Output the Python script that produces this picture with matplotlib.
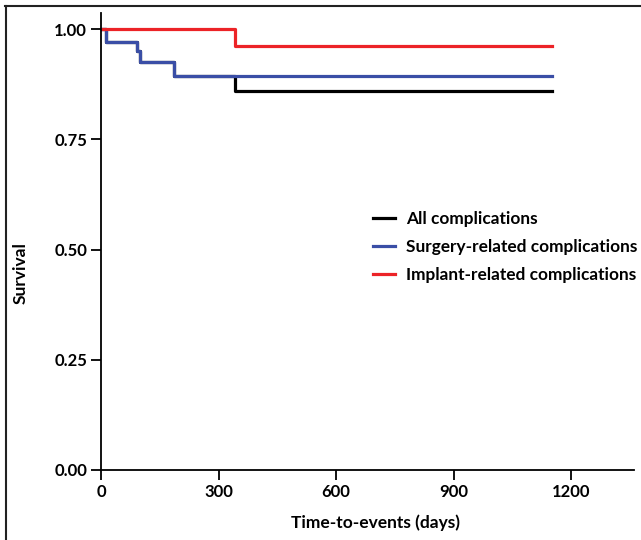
import matplotlib.pyplot as plt
from matplotlib.lines import Line2D

### DATA
# step curves: times where survival changes, and survival after each step
all_t = [0, 12, 93, 99, 187, 342, 1150]
all_s = [1.0, 0.971, 0.950, 0.926, 0.893, 0.860, 0.860]

surg_t = [0, 12, 93, 99, 187, 1150]
surg_s = [1.0, 0.971, 0.950, 0.926, 0.893, 0.893]

impl_t = [0, 342, 1150]
impl_s = [1.0, 0.961, 0.961]

x_ticks = [0, 300, 600, 900, 1200]
y_ticks = [0.00, 0.25, 0.50, 0.75, 1.00]
y_tick_labels = ["0.00", "0.25", "0.50", "0.75", "1.00"]

plt.rcParams['font.family'] = ['Lato', 'DejaVu Sans']
plt.rcParams['font.weight'] = 'bold'

fig = plt.figure(figsize=(6.41, 5.40), dpi=100)
ax = fig.add_axes([101 / 641, 70 / 540, 533 / 641, 457 / 540])

ax.step(all_t, all_s, where='post', color='black', lw=2.3, label='All complications')
ax.step(surg_t, surg_s, where='post', color='#3a4ea6', lw=2.3, label='Surgery-related complications')
ax.step(impl_t, impl_s, where='post', color='#ec2327', lw=2.3, label='Implant-related complications')

ax.set_xlim(0, 1360)
ax.set_ylim(0, 1.037)
ax.spines['top'].set_visible(False)
ax.spines['right'].set_visible(False)
ax.spines['left'].set_linewidth(1.3)
ax.spines['bottom'].set_linewidth(1.3)
ax.set_xticks(x_ticks)
ax.set_yticks(y_ticks)
ax.set_yticklabels(y_tick_labels)
ax.tick_params(direction='out', length=7, width=1.3, labelsize=12, pad=3)
for lbl in ax.get_xticklabels() + ax.get_yticklabels():
    lbl.set_fontweight('bold')

ax.set_xlabel('Time-to-events (days)', fontsize=12.5, fontweight='bold')
ax.set_ylabel('Survival', fontsize=12.5, fontweight='bold')
ax.xaxis.set_label_coords(0.515, -0.098)
ax.yaxis.set_label_coords(-0.135, 0.43)

leg = ax.legend(loc='upper left', bbox_to_anchor=(0.481, 0.60), frameon=False,
                fontsize=12.4, handlelength=1.3, handletextpad=0.6, labelspacing=0.68)
for t in leg.get_texts():
    t.set_fontweight('bold')

# frame lines at top and left of the figure
fig.add_artist(Line2D([5 / 641, 1.0], [1 - 6 / 540, 1 - 6 / 540], color='#222222', lw=1.5))
fig.add_artist(Line2D([6 / 641, 6 / 641], [0, 1 - 6 / 540], color='#222222', lw=1.5))

fig.savefig('out.png', dpi=100)
